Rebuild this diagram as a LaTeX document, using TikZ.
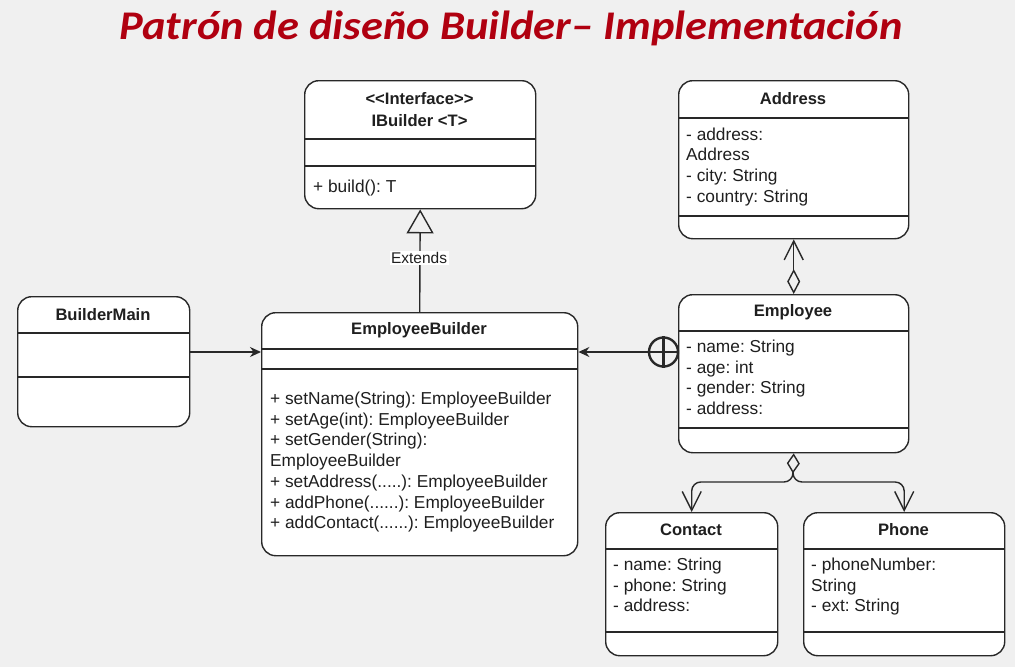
\documentclass[tikz,border=0pt]{standalone}
\usepackage{fontspec}
\usepackage{graphicx}
\setmainfont{Liberation Sans}
\newfontfamily\titlefont{Carlito}
\usetikzlibrary{arrows.meta,calc}
\definecolor{bg}{RGB}{240,240,240}
\definecolor{ln}{RGB}{40,40,40}
\definecolor{ttl}{RGB}{176,0,16}
\frenchspacing
\newcommand\umlbox[8]{% name, x1, y1, width, height, x2, divider1, divider2
  \node[classbox, minimum width=#4pt, minimum height=#5pt] (#1) at (#2,#3) {};
  \draw[sep] (#2,#7) -- (#6,#7);
  \draw[sep] (#2,#8) -- (#6,#8);
}
\begin{document}
\begin{tikzpicture}[x=1pt,y=-1pt,
  classbox/.style={draw=ln, line width=1.4pt, fill=white, rounded corners=14pt, inner sep=0pt, anchor=north west},
  sep/.style={draw=ln, line width=1.4pt},
  head/.style={font=\fontsize{16.6}{20}\selectfont\bfseries\frenchspacing, inner sep=0pt, anchor=base, text=black!88},
  attr/.style={font=\fontsize{17.3}{20.7}\selectfont\frenchspacing, inner sep=0pt, anchor=base west, align=left, text=black!88},
  conn/.style={draw=ln, line width=1.4pt},
  barb/.style={-{Straight Barb[length=19pt,width=19pt]}}]
\fill[bg] (0,0) rectangle (1015,667);
\useasboundingbox (0,0) rectangle (1015,667);

% title
\node[font=\titlefont\fontsize{40.7}{46}\selectfont\bfseries\itshape, text=ttl, anchor=base, inner sep=0pt] (title) at (511,39) {\scalebox{1.093}[1]{Patrón de diseño Builder– Implementación}};

% classes
\umlbox{ib}{304}{80}{231}{128}{535}{139}{166}
\umlbox{bm}{17}{296}{172}{130}{189}{333}{377}
\umlbox{eb}{261}{312}{316}{243}{577}{349}{369}
\umlbox{ad}{678}{80}{230}{158}{908}{118}{216}
\umlbox{em}{678}{294}{230}{158}{908}{331}{428}
\umlbox{ct}{605}{512}{172}{143}{777}{549}{632}
\umlbox{ph}{803}{512}{201}{143}{1004}{549}{632}

% class texts (multi-line nodes are placed by the baseline of their last line)
\node[head] (ibh1) at (419.5,104) {<{}<Interface>{}>};
\node[head] (ibh2) at (419.5,126) {IBuilder <T>};
\node[attr] (iba) at (313,192) {+ build(): T};

\node[head] (bmh) at (103,320) {BuilderMain};

\node[head] (ebh) at (419,334.5) {EmployeeBuilder};
\node[attr] (eba) at (270,528.7) {+ setName(String): EmployeeBuilder\\+ setAge(int): EmployeeBuilder\\+ setGender(String):\\EmployeeBuilder\\+ setAddress(.....): EmployeeBuilder\\+ addPhone(......): EmployeeBuilder\\+ addContact(......): EmployeeBuilder};

\node[head] (adh) at (793,104) {Address};
\node[attr] (ada) at (686,202.1) {- address:\\Address\\- city: String\\- country: String};

\node[head] (emh) at (793,316) {Employee};
\node[attr] (ema) at (686,414.6) {- name: String\\- age: int\\- gender: String\\- address:};

\node[head] (cth) at (691,535) {Contact};
\node[attr] (cta) at (613,611.9) {- name: String\\- phone: String\\- address:};

\node[head] (phh) at (903.5,535) {Phone};
\node[attr] (pha) at (811,611.9) {- phoneNumber:\\String\\- ext: String};

% connectors
\draw[conn, -{Stealth[length=11pt,width=10pt]}] (bm.east |- 0,352) -- (eb.west |- 0,352);

\draw[conn, -{Triangle[open,length=24pt,width=27pt]}] (eb.north) -- (ib.south);
\node[fill=white, inner sep=1.5pt, font=\fontsize{15.5}{18}\selectfont, text=black!88] (ext) at (419,258) {Extends};

\node[circle, draw=ln, line width=2.4pt, minimum size=29pt, inner sep=0pt] (cp) at (663.5,352) {};
\draw[ln, line width=2.4pt] (cp.north) -- (cp.south) (cp.west) -- (cp.east);
\draw[conn, -{Stealth[length=11pt,width=10pt]}] (cp.west) -- (eb.east |- cp.west);

\draw[conn, {Diamond[open,length=25pt,width=13pt]}-{Straight Barb[length=19pt,width=19pt]}] (em.north) -- (ad.south);

\coordinate (split) at (793,482);
\coordinate (dbot) at (793,472);
\draw[conn, {Diamond[open,length=20pt,width=13pt]}-] (em.south) -- (dbot);
\draw[conn, barb, rounded corners=9pt] (dbot) -- (split) -| (ct.north);
\draw[conn, barb, rounded corners=9pt] (dbot) -- (split) -| (ph.north);
\end{tikzpicture}
\end{document}
